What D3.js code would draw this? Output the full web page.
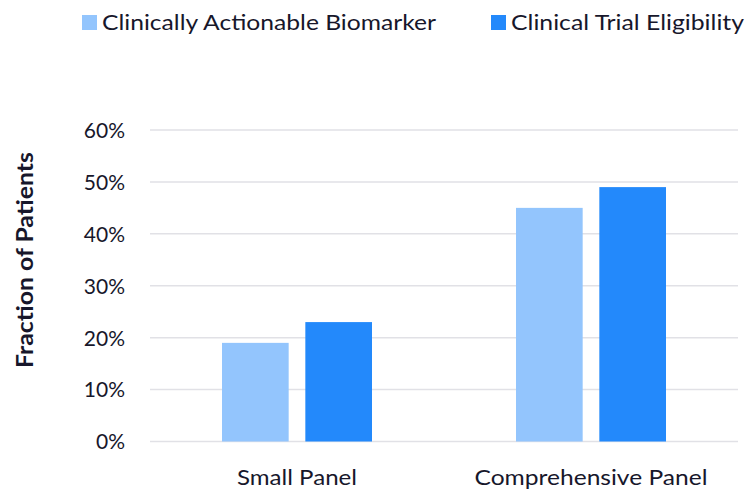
<!DOCTYPE html>
<html>
<head>
<meta charset="utf-8">
<script src="https://cdn.jsdelivr.net/npm/d3@7"></script>
<style>
  html, body { margin: 0; padding: 0; background: #ffffff; }
  svg { display: block; }
  text { font-family: Lato, "Open Sans", "DejaVu Sans", sans-serif; fill: #17172b; }
</style>
</head>
<body>
<svg id="chart" width="749" height="489"></svg>
<script>
const categories = ["Small Panel", "Comprehensive Panel"];
const seriesNames = ["Clinically Actionable Biomarker", "Clinical Trial Eligibility"];
const actionableValues = [0.19, 0.45];
const trialValues = [0.23, 0.49];
const tickValues = [0, 0.1, 0.2, 0.3, 0.4, 0.5, 0.6];
const yAxisTitle = "Fraction of Patients";
const colors = ["#93c5fd", "#2389fb"];

const svg = d3.select("#chart");
const W = 749, H = 489;
const margin = { left: 150, right: 11, top: 130, bottom: 48 };

const y = d3.scaleLinear().domain([0, 0.6]).range([441.5, 130]);
const x0 = d3.scaleBand().domain(categories).range([margin.left, W - margin.right]).paddingInner(0).paddingOuter(0);
const x1 = d3.scaleBand().domain(seriesNames).range([-75, 75]).paddingInner(0.2).paddingOuter(0);

// gridlines
const grid = svg.append("g");
grid.selectAll("line").data(tickValues).join("line")
  .attr("x1", margin.left).attr("x2", W - margin.right)
  .attr("y1", d => y(d)).attr("y2", d => y(d))
  .attr("stroke", "#e1e1e6").attr("stroke-width", 1.5);

// y axis labels
const yAxis = d3.axisLeft(y).tickValues(tickValues).tickFormat(d3.format(".0%")).tickSize(0).tickPadding(0);
const yg = svg.append("g").attr("transform", "translate(125,0)").call(yAxis);
yg.select(".domain").remove();
yg.selectAll("text").attr("font-size", 21).attr("dy", "0.35em").style("font-family", "Lato, sans-serif").attr("fill", "#17172b");

// y title
svg.append("text")
  .attr("transform", "translate(33,260) rotate(-90)")
  .attr("text-anchor", "middle")
  .attr("font-size", 23).attr("font-weight", "bold")
  .attr("textLength", 216).attr("lengthAdjust", "spacingAndGlyphs")
  .text(yAxisTitle);

// bars
const data = categories.map((c, i) => ({ cat: c, vals: [actionableValues[i], trialValues[i]] }));
const groups = svg.append("g").selectAll("g").data(data).join("g")
  .attr("transform", d => `translate(${x0(d.cat) + x0.bandwidth() / 2},0)`);
groups.selectAll("rect").data(d => d.vals.map((v, j) => ({ v, s: seriesNames[j], j })))
  .join("rect")
  .attr("x", d => x1(d.s))
  .attr("width", x1.bandwidth())
  .attr("y", d => y(d.v))
  .attr("height", d => y(0) - y(d.v))
  .attr("fill", d => colors[d.j]);

// x axis labels
const xAxis = d3.axisBottom(x0).tickSize(0).tickPadding(0);
const xg = svg.append("g").attr("transform", "translate(0,485)").call(xAxis);
xg.select(".domain").remove();
xg.selectAll("text").attr("font-size", 21).attr("dy", 0).style("font-family", "Lato, sans-serif").attr("fill", "#17172b")
  .attr("textLength", d => d === "Small Panel" ? 120 : 233).attr("lengthAdjust", "spacingAndGlyphs");

// legend
const legendX = [82, 491];
const legendW = [334, 233];
const leg = svg.append("g").selectAll("g").data(seriesNames).join("g")
  .attr("transform", (d, i) => `translate(${legendX[i]},0)`);
leg.append("rect").attr("x", 0).attr("y", 15).attr("width", 15).attr("height", 15)
  .attr("fill", (d, i) => colors[i]);
leg.append("text").attr("x", 20).attr("y", 30).attr("font-size", 21)
  .attr("textLength", (d, i) => legendW[i]).attr("lengthAdjust", "spacingAndGlyphs")
  .text(d => d);
</script>
</body>
</html>
